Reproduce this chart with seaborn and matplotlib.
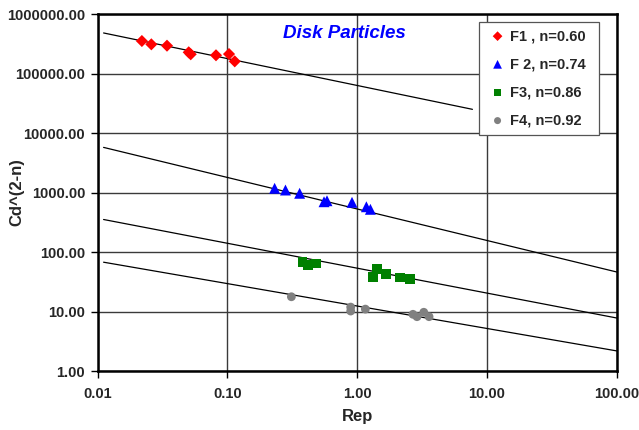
import numpy as np
import pandas as pd
import matplotlib
matplotlib.use("Agg")
import matplotlib.pyplot as plt
from matplotlib.ticker import FuncFormatter, NullLocator
import seaborn as sns

# Particle Reynolds number and Cd^(2-n) measured for each fluid
f1_rep = [0.0219, 0.0259, 0.0342, 0.0503, 0.0521, 0.0816, 0.1028, 0.1138]
f1_cd = [356000, 313000, 297000, 230000, 213000, 205000, 215000, 162000]

f2_rep = [0.231, 0.280, 0.360, 0.555, 0.585, 0.912, 1.177, 1.264]
f2_cd = [1191, 1114, 982, 708, 736, 692, 583, 528]

f3_rep = [0.378, 0.418, 0.479, 1.42, 1.32, 1.66, 2.13, 2.54]
f3_cd = [68.7, 60.5, 65.3, 51.8, 38.9, 43.2, 38.0, 35.2]

f4_rep = [0.311, 0.891, 0.891, 1.156, 2.69, 2.89, 3.26, 3.58]
f4_cd = [17.9, 12.0, 10.3, 11.1, 9.08, 8.28, 9.82, 8.28]

series_labels = ["F1 , n=0.60", "F 2, n=0.74", "F3, n=0.86", "F4, n=0.92"]

# Power-law fits Cd^(2-n) = k * Rep^m and the Rep span each one covers
fit_k = [63700, 535, 54.1, 12.5]
fit_m = [-0.4515, -0.5295, -0.4186, -0.377]
fit_start = [0.0111, 0.0111, 0.0111, 0.0111]
fit_end = [7.73, 100.0, 100.0, 100.0]

x_ticks = [0.01, 0.1, 1, 10, 100]
y_ticks = [1, 10, 100, 1000, 10000, 100000, 1000000]

sns.set_theme(style="white")
plt.rcParams["font.family"] = ["Liberation Sans", "DejaVu Sans"]
plt.rcParams["font.weight"] = "bold"

rep_all = [f1_rep, f2_rep, f3_rep, f4_rep]
cd_all = [f1_cd, f2_cd, f3_cd, f4_cd]
frames = []
for lab, r, c in zip(series_labels, rep_all, cd_all):
    frames.append(pd.DataFrame({"Rep": r, "Cd": c, "fluid": lab}))
points = pd.concat(frames, ignore_index=True)

colors = ["#FF0000", "#0000FF", "#008000", "#808080"]
markers = ["D", "^", "s", "o"]
sizes = [38, 62, 48, 40]

fig = plt.figure(figsize=(6.39, 4.30), dpi=100)
ax = fig.add_axes([0.1529, 0.1365, 0.8122, 0.8302])
ax.set_xscale("log")
ax.set_yscale("log")

# fitted trend lines
for k, m, x0, x1 in zip(fit_k, fit_m, fit_start, fit_end):
    xs = np.array([x0, x1])
    line = pd.DataFrame({"Rep": xs, "Cd": k * xs ** m})
    sns.lineplot(data=line, x="Rep", y="Cd", color="black", lw=0.9,
                 estimator=None, sort=False, legend=False, ax=ax, zorder=3)

for lab, col, mk, sz in zip(series_labels, colors, markers, sizes):
    sub = points[points["fluid"] == lab]
    sns.scatterplot(data=sub, x="Rep", y="Cd", color=col, marker=mk, s=sz,
                    edgecolor="none", linewidth=0, label=lab, ax=ax, zorder=4)

ax.set_xlim(0.01, 100)
ax.set_ylim(1, 1000000)
ax.xaxis.set_major_locator(plt.FixedLocator(x_ticks))
ax.yaxis.set_major_locator(plt.FixedLocator(y_ticks))
ax.xaxis.set_minor_locator(NullLocator())
ax.yaxis.set_minor_locator(NullLocator())
fmt = FuncFormatter(lambda v, p: f"{v:.2f}")
ax.xaxis.set_major_formatter(fmt)
ax.yaxis.set_major_formatter(fmt)

ax.grid(True, which="major", color="#3a3a3a", lw=1.0)
ax.set_axisbelow(True)
for sp in ax.spines.values():
    sp.set_color("black")
    sp.set_linewidth(1.8)

ax.tick_params(axis="both", which="major", direction="out", length=5,
               width=1.0, color="black", labelsize=10.5, pad=4,
               bottom=True, left=True)
ax.tick_params(axis="x", pad=6)
for t in ax.get_xticklabels() + ax.get_yticklabels():
    t.set_fontweight("bold")

ax.set_xlabel("Rep", fontsize=12, fontweight="bold")
ax.set_ylabel("Cd^(2-n)", fontsize=12, fontweight="bold")
ax.xaxis.set_label_coords(0.5, -0.105)
ax.yaxis.set_label_coords(-0.142, 0.502)

ax.text(0.475, 0.947, "Disk Particles", transform=ax.transAxes,
        ha="center", va="center", color="#0000FF", fontsize=13.5,
        fontweight="bold", fontstyle="italic")

leg = ax.legend(loc="upper left", bbox_to_anchor=(0.7353, 0.9793, 0.2312, 0),
                mode="expand",
                frameon=True, fancybox=False, shadow=False,
                edgecolor="#555555", facecolor="white", framealpha=1.0,
                prop={"weight": "bold", "size": 10.5},
                labelspacing=0.97, handlelength=1.5, handletextpad=0.1,
                borderpad=0.5, borderaxespad=0, markerscale=0.8)
leg.get_frame().set_linewidth(0.9)

fig.savefig("out.png", dpi=100, facecolor="white")
